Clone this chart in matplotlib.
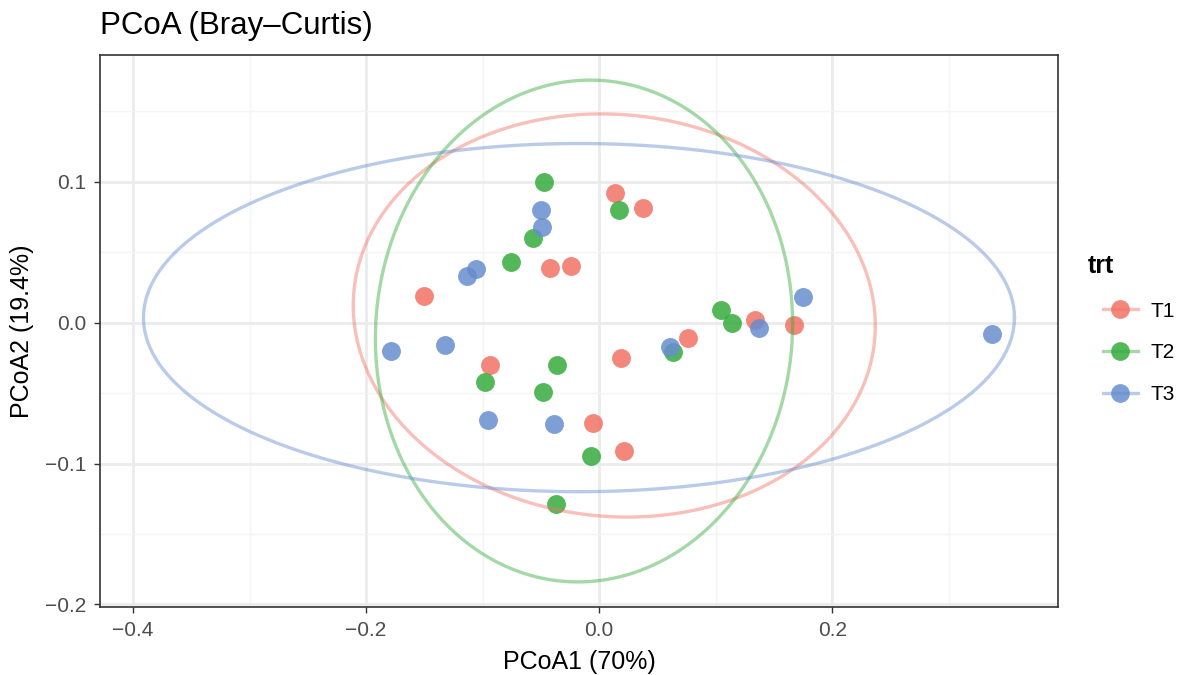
import numpy as np
import matplotlib.pyplot as plt
from matplotlib.lines import Line2D

plt.rcParams['font.family'] = ['Liberation Sans', 'DejaVu Sans']

groups = ["T1", "T2", "T3"]
colors = ["#F27264", "#36AC3D", "#678DCF"]

# PCoA scores per treatment
t1_x = [-0.150, 0.014, 0.038, -0.042, -0.024, -0.094, 0.019, -0.005, 0.021, 0.076, 0.134, 0.167]
t1_y = [0.0185, 0.0916, 0.081, 0.039, 0.040, -0.030, -0.025, -0.071, -0.091, -0.011, 0.002, -0.002]
t2_x = [-0.047, 0.017, -0.057, -0.076, -0.098, -0.036, -0.048, -0.007, -0.037, 0.063, 0.105, 0.114]
t2_y = [0.0994, 0.0795, 0.0597, 0.043, -0.042, -0.030, -0.049, -0.095, -0.129, -0.021, 0.0092, 0.0]
t3_x = [-0.050, -0.049, -0.106, -0.113, -0.179, -0.132, -0.095, -0.039, 0.061, 0.137, 0.175, 0.337]
t3_y = [0.080, 0.0675, 0.038, 0.033, -0.020, -0.0156, -0.069, -0.072, -0.017, -0.004, 0.0178, -0.008]

# 95% ellipses: centre, semi-axes along x / y, correlation
ell_cx = [0.013, -0.013, -0.0173]
ell_cy = [0.005, -0.006, 0.0035]
ell_sx = [0.224, 0.179, 0.3737]
ell_sy = [0.143, 0.178, 0.1235]
ell_r = [-0.05, 0.03, 0.0]

xs = [t1_x, t2_x, t3_x]
ys = [t1_y, t2_y, t3_y]

fig = plt.figure(figsize=(11.87, 6.75), dpi=100)
ax = fig.add_axes([100 / 1187, 1 - 607 / 675, 958 / 1187, 552 / 675])

for i, g in enumerate(groups):
    ax.scatter(xs[i], ys[i], s=185, color=colors[i], alpha=0.85, linewidths=0, zorder=3)

t = np.linspace(0, 2 * np.pi, 200)
all_ex, all_ey = [], []
for i, g in enumerate(groups):
    r = ell_r[i]
    ex = ell_cx[i] + ell_sx[i] * np.cos(t)
    ey = ell_cy[i] + ell_sy[i] * (r * np.cos(t) + np.sqrt(1 - r ** 2) * np.sin(t))
    ax.plot(ex, ey, color=colors[i], alpha=0.45, lw=2.4, zorder=4)
    all_ex += list(ex)
    all_ey += list(ey)

# ggplot-style 5% expansion
xmin, xmax = min(all_ex + t3_x), max(all_ex + t3_x)
ymin, ymax = min(all_ey), max(all_ey)
dx, dy = (xmax - xmin) * 0.05, (ymax - ymin) * 0.05
ax.set_xlim(xmin - dx, xmax + dx)
ax.set_ylim(ymin - dy, ymax + dy)

ax.set_xticks([-0.4, -0.2, 0.0, 0.2])
ax.set_xticklabels(["\u22120.4", "\u22120.2", "0.0", "0.2"])
ax.set_yticks([-0.2, -0.1, 0.0, 0.1])
ax.set_yticklabels(["\u22120.2", "\u22120.1", "0.0", "0.1"])
ax.set_xticks([-0.3, -0.1, 0.1, 0.3], minor=True)
ax.set_yticks([-0.15, -0.05, 0.05, 0.15], minor=True)

ax.grid(which='major', color='#EBEBEB', lw=2.0, zorder=0)
ax.grid(which='minor', color='#F4F4F4', lw=1.0, zorder=0)
ax.set_axisbelow(True)

ax.tick_params(which='major', length=4, width=1, color='#333333', labelsize=15, labelcolor='#4D4D4D', pad=6)
ax.tick_params(which='minor', length=0)
for sp in ax.spines.values():
    sp.set_color('#333333')
    sp.set_linewidth(1.2)

ax.set_xlabel("PCoA1 (70%)", fontsize=18, labelpad=7)
ax.set_ylabel("PCoA2 (19.4%)", fontsize=18, labelpad=8)
ax.set_title("PCoA (Bray\u2013Curtis)", loc='left', fontsize=22.5, pad=15)

handles = []
for i, g in enumerate(groups):
    ln = Line2D([], [], color=colors[i], alpha=0.45, lw=2.4)
    pt = Line2D([], [], color=colors[i], alpha=0.85, marker='o', ms=13.5, mew=0, lw=0)
    handles.append((ln, pt))

fig.text(1088 / 1187, 1 - 266 / 675, "trt", fontsize=18, fontweight='bold', va='center', ha='left')
leg = ax.legend(handles, groups, loc='center left',
                bbox_to_anchor=(1084 / 1187, 1 - 353 / 675), bbox_transform=fig.transFigure,
                frameon=False, fontsize=15, handlelength=1.7, handletextpad=0.6,
                labelspacing=1.1)

fig.savefig("out.png", dpi=100)
